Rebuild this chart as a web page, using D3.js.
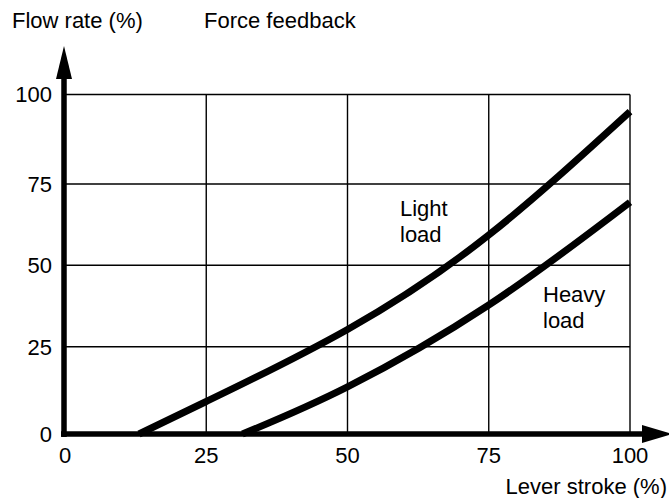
<!DOCTYPE html>
<html><head><meta charset="utf-8">
<script src="https://cdn.jsdelivr.net/npm/d3@7"></script>
<style>body{margin:0;background:#fff}svg{display:block}text{font-family:"Liberation Sans",Arial,sans-serif;fill:#000}</style>
</head><body>
<svg id="c" width="669" height="498"></svg>
<script>
const xTicks = [0, 25, 50, 75, 100];
const yTicks = [0, 25, 50, 75, 100];
const lightStroke = [13.1, 25, 50, 75, 100];
const lightFlow   = [0, 9.3, 30.3, 59.3, 95.2];
const heavyStroke = [31.4, 50, 75, 100];
const heavyFlow   = [0, 13.5, 37.8, 69.4];

const svg = d3.select("#c");
const x = d3.scaleLinear().domain([0, 100]).range([65, 630]);
const y = d3.scaleLinear().domain(yTicks).range([434, 346.7, 265.3, 184, 94.5]);
const FS = 22;

// grid
svg.append("g").selectAll("line").data(xTicks.slice(1)).join("line")
  .attr("x1", d => x(d)).attr("x2", d => x(d)).attr("y1", y(0)).attr("y2", y(100))
  .attr("stroke", "#000").attr("stroke-width", 1.4);
svg.append("g").selectAll("line").data(yTicks.slice(1)).join("line")
  .attr("x1", x(0)).attr("x2", x(100)).attr("y1", d => y(d)).attr("y2", d => y(d))
  .attr("stroke", "#000").attr("stroke-width", 1.4);

// curves
const line = d3.line().x(d => x(d[0])).y(d => y(d[1])).curve(d3.curveNatural);
const light = lightStroke.map((s, i) => [s, lightFlow[i]]);
const heavy = heavyStroke.map((s, i) => [s, heavyFlow[i]]);
[light, heavy].forEach(data => svg.append("path").attr("d", line(data))
  .attr("fill", "none").attr("stroke", "#000").attr("stroke-width", 7));

// axes
svg.append("line").attr("x1", x(0) - 1).attr("x2", x(0) - 1).attr("y1", y(0) + 3).attr("y2", 76)
  .attr("stroke", "#000").attr("stroke-width", 5.5);
svg.append("path").attr("d", `M${x(0)-1},46 L${x(0)-9},79 L${x(0)+7},79 Z`).attr("fill", "#000");
svg.append("line").attr("x1", x(0) - 4).attr("x2", 646).attr("y1", y(0)).attr("y2", y(0))
  .attr("stroke", "#000").attr("stroke-width", 5.5);
svg.append("path").attr("d", `M672,${y(0)} L642,${y(0)-9} L642,${y(0)+9} Z`).attr("fill", "#000");

// tick labels
svg.append("g").selectAll("text").data(yTicks).join("text")
  .attr("x", 52).attr("y", d => y(d)).attr("dy", "0.36em").attr("text-anchor", "end")
  .attr("font-size", FS).text(d => d);
svg.append("g").selectAll("text").data(xTicks).join("text")
  .attr("x", d => x(d)).attr("y", 463).attr("text-anchor", "middle")
  .attr("font-size", FS).text(d => d);

// titles
svg.append("text").attr("x", 12).attr("y", 28).attr("font-size", FS).text("Flow rate (%)");
svg.append("text").attr("x", 204).attr("y", 28).attr("font-size", FS).text("Force feedback");
svg.append("text").attr("x", 667).attr("y", 494).attr("text-anchor", "end").attr("font-size", FS).text("Lever stroke (%)");

// curve labels
svg.append("text").attr("x", 400).attr("y", 216).attr("font-size", FS).text("Light");
svg.append("text").attr("x", 400).attr("y", 242).attr("font-size", FS).text("load");
svg.append("text").attr("x", 543).attr("y", 302).attr("font-size", FS).text("Heavy");
svg.append("text").attr("x", 543).attr("y", 328).attr("font-size", FS).text("load");
</script>
</body></html>
